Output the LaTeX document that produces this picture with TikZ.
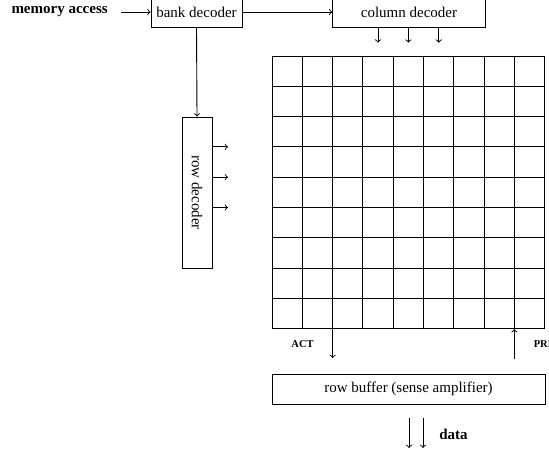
\documentclass[tikz,border=0pt]{standalone}
\usepackage{fontspec}
\setmainfont{Liberation Serif}
\begin{document}
\begin{tikzpicture}[x=0.6667pt,y=-0.6667pt,
  box/.style={draw,line width=0.6pt,inner sep=0pt,minimum height=20pt},
  lbl/.style={inner sep=0pt,font=\bfseries},
  conn/.style={line width=0.6pt},
  arr/.style={->,line width=0.6pt}]
\useasboundingbox (0,0) rectangle (549,459);
% top row
\node[lbl,anchor=east,inner xsep=0pt] (ma) at (108,11.5) {memory access};
\node[box,minimum width=60.7pt] (bank) at (196.5,12) {bank decoder};
\node[box,minimum width=101.7pt] (col) at (409,12) {column decoder};
\coordinate (maout) at (121,12);
\draw[arr] (maout) -- (bank.west);
\draw[arr] (bank.east) -- (col.west);
% row decoder (rotated: its west side is on top, its north side faces right)
\node[box,rotate=-90,minimum width=100.7pt] (row) at (197,192.5) {row decoder};
\draw[arr] (bank.south) -- (row.west);
% array
\node[draw,line width=0.6pt,minimum width=181.8pt,minimum height=181.8pt,inner sep=0pt] (array) at (408.35,192.35) {};
\foreach \i in {1,...,8} {
  \draw[conn] (272+\i*30.3,56) -- (272+\i*30.3,328.7);
  \draw[conn] (272,56+\i*30.3) -- (544.7,56+\i*30.3);
}
% column decoder arrows
\foreach \x in {378,408.4,438.7}
  \draw[arr] (\x,28) -- (\x,42.7);
% row decoder arrows
\foreach \y in {146.9,177.2,207.5}
  \draw[arr] (row.north |- 0,\y) -- (228,\y);
% ACT / PRE
\coordinate (actend) at (332.6,358);
\coordinate (prestart) at (514.4,359);
\draw[arr] (actend |- array.south) -- (actend);
\draw[arr] (prestart) -- (prestart |- array.south);
\node[lbl,font=\scriptsize\bfseries] (act) at (302.5,344.5) {ACT};
\node[lbl,font=\scriptsize\bfseries,anchor=west] (pre) at (533.5,344.5) {PRE};
% row buffer
\node[box,minimum width=182pt] (buf) at (408.5,389) {row buffer (sense amplifier)};
% data
\coordinate (d1) at (409,418);
\coordinate (d2) at (423,418);
\draw[arr] (d1) -- ++(0,30);
\draw[arr] (d2) -- ++(0,30);
\node[lbl,anchor=west] (data) at (439,434.5) {data};
\end{tikzpicture}
\end{document}
